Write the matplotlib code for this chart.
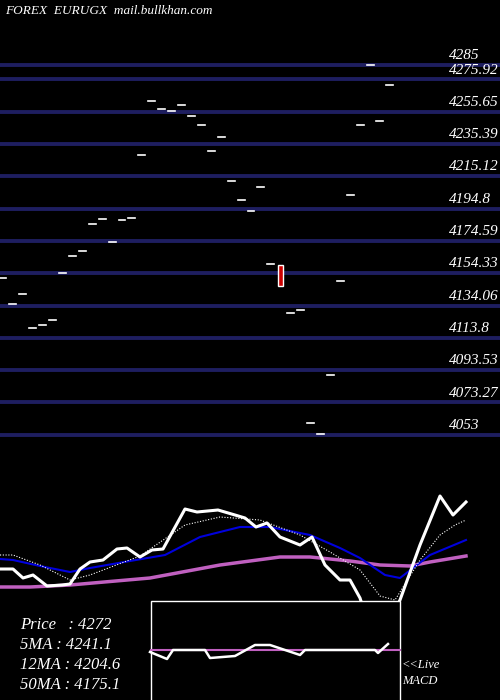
import matplotlib
matplotlib.use("Agg")
import matplotlib.pyplot as plt

# daily closes (dashes), oldest first
closes = [4151.3, 4135.0, 4141.3, 4119.9, 4121.8, 4125.0, 4154.5, 4165.1, 4168.3, 4185.2,
          4188.4, 4173.9, 4187.7, 4189.0, 4228.5, 4262.4, 4257.4, 4256.1, 4259.9, 4253.0,
          4247.3, 4231.0, 4239.8, 4212.2, 4200.3, 4193.4, 4208.4, 4160.1, None, 4129.4,
          4131.2, 4060.3, 4053.4, 4090.4, 4149.4, 4203.4, 4247.3, 4285.0, 4249.9, 4272.4]
candle_idx = 28
candle_open, candle_close = 4159.5, 4146.3
levels = [4285, 4275.92, 4255.65, 4235.39, 4215.12, 4194.8, 4174.59, 4154.33,
          4134.06, 4113.8, 4093.53, 4073.27, 4053]
level_labels = ["4285", "4275.92", "4255.65", "4235.39", "4215.12", "4194.8", "4174.59",
                "4154.33", "4134.06", "4113.8", "4093.53", "4073.27", "4053"]

# lower panel lines (x in px, level in px)
price_x = [0, 13, 23, 33, 47, 62, 70, 80, 90, 103, 117, 127, 140, 152, 163, 185, 197, 218, 235,
           245, 256, 267, 280, 300, 312, 325, 340, 350, 360, 367, 380, 400, 420, 440, 453, 466]
price_y = [569, 569, 578, 575, 586, 585, 584, 569, 562, 560, 549, 548, 557, 550, 549, 509, 512,
           510, 515, 518, 527, 523, 537, 545, 537, 565, 580, 580, 598, 620, 640, 600, 545, 496, 515, 502]
ma5_x = [0, 13, 40, 70, 90, 140, 185, 220, 260, 300, 330, 360, 380, 395, 420, 440, 455, 466]
ma5_y = [555, 555, 565, 580, 575, 556, 525, 517, 520, 535, 552, 570, 596, 600, 560, 535, 525, 520]
ma12_x = [0, 13, 40, 70, 90, 130, 165, 200, 240, 270, 310, 340, 360, 385, 400, 430, 466]
ma12_y = [559, 560, 566, 572, 568, 561, 555, 537, 527, 527, 535, 548, 558, 575, 578, 555, 540]
ma50_x = [0, 30, 70, 150, 220, 280, 310, 350, 380, 410, 430, 466]
ma50_y = [587, 587, 585, 578, 565, 557, 557, 561, 565, 566, 562, 556]
macd_x = [150, 167, 173, 205, 210, 235, 255, 270, 300, 305, 375, 378, 388]
macd_y = [652, 659, 650, 650, 658, 656, 645, 645, 655, 650, 650, 653, 644]

fig = plt.figure(figsize=(5, 7), dpi=100, facecolor="black")
serif = dict(family="Liberation Serif", style="italic", color="white")

# price panel
ax = fig.add_axes([0, 1 - 450 / 700, 1, 450 / 700])
ax.set_facecolor("black")
ax.set_xlim(-0.3, 50.1)
ax.set_ylim(4043.4, 4325.8)
ax.axis("off")
for lv, lab in zip(levels, level_labels):
    ax.axhline(lv, color="#1e1e60", lw=2.8, zorder=1)
    ax.text(45.0, lv + 1.8, lab, fontsize=11, va="bottom", ha="left", **serif)
for i, c in enumerate(closes):
    if c is None:
        continue
    ax.plot([i - 0.35, i + 0.35], [c, c], color="white", lw=1.2, zorder=3)
ax.bar(candle_idx, candle_open - candle_close, bottom=candle_close, width=0.55,
       color="#cc0000", edgecolor="white", lw=1, zorder=3)
ax.text(0.2, 4319, "FOREX  EURUGX  mail.bullkhan.com", fontsize=9.5, va="center", **serif)

# lower panel in pixel units
bx = fig.add_axes([0, 0, 1, 250 / 700])
bx.set_facecolor("black")
bx.set_xlim(0, 500)
bx.set_ylim(700, 450)
bx.axis("off")
bx.plot(ma50_x, ma50_y, color="#c060c0", lw=2.5)
bx.plot(ma12_x, ma12_y, color="#0000dd", lw=1.5)
bx.plot(ma5_x, ma5_y, color="white", lw=0.8, ls=(0, (1, 1.5)))
bx.plot(price_x, price_y, color="white", lw=2.2)
bx.add_patch(plt.Rectangle((151, 601), 249, 110, facecolor="black", edgecolor="white", lw=1, zorder=5))
bx.axhline(650, xmin=151 / 500, xmax=400 / 500, color="#c060c0", lw=1.5, zorder=6)
bx.plot(macd_x, macd_y, color="white", lw=1.8, zorder=7)
for k, t in enumerate(["Price   : 4272", "5MA : 4241.1", "12MA : 4204.6", "50MA : 4175.1"]):
    bx.text(20, 625 + 20 * k, t, fontsize=12, va="center", **serif)
bx.text(402, 665, "<<Live", fontsize=9, va="center", **serif)
bx.text(402, 681, "MACD", fontsize=9, va="center", **serif)

fig.savefig("out.png", facecolor="black")
